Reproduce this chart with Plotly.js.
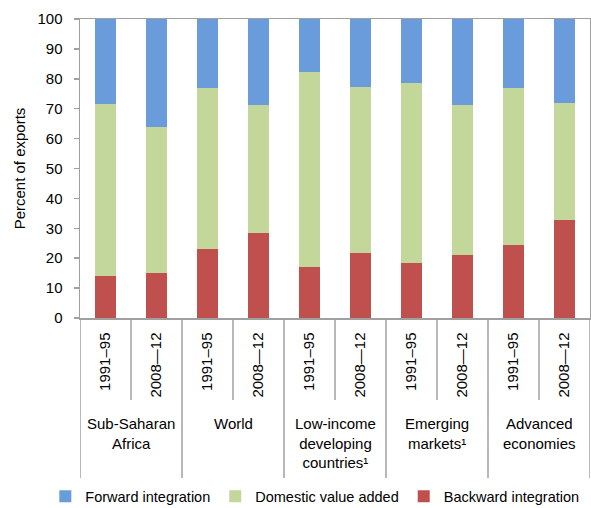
<!DOCTYPE html>
<html>
<head>
<meta charset="utf-8">
<script src="https://cdn.plot.ly/plotly-3.0.1.min.js"></script>
<style>html,body{margin:0;padding:0;background:#fff;}#chart{width:591px;height:508px;}</style>
</head>
<body>
<div id="chart"></div>
<script>
const groups = ["Sub-Saharan<br>Africa", "World", "Low-income<br>developing<br>countries¹", "Emerging<br>markets¹", "Advanced<br>economies"];
const periods = ["1991–95", "2008—12"];
const backward = [14.0, 15.2, 23.2, 28.5, 17.2, 21.6, 18.4, 21.0, 24.4, 32.7];
const domestic = [57.6, 48.6, 53.7, 42.8, 65.2, 55.7, 60.2, 50.2, 52.5, 39.3];
const forward  = [28.4, 36.2, 23.1, 28.7, 17.6, 22.7, 21.4, 28.8, 23.1, 28.0];

const xIdx = backward.map((_, i) => i);
const tickText = xIdx.map(i => periods[i % periods.length]);

const FONT = {family: '"Liberation Sans", Arial, sans-serif', size: 15, color: '#000'};
const AXC = '#a0a0a0';

const traces = [
  {name: 'Backward integration', y: backward, color: '#c0504d'},
  {name: 'Domestic value added', y: domestic, color: '#c4d79b'},
  {name: 'Forward integration', y: forward, color: '#6a9cdb'}
].map(s => ({
  type: 'bar', x: xIdx, y: s.y, name: s.name,
  marker: {color: s.color, line: {width: 0}},
  hoverinfo: 'skip'
}));

// separators below the x axis
const shapes = [];
for (let b = 0; b <= xIdx.length; b++) {
  const isGroup = (b % periods.length) === 0;
  shapes.push({
    type: 'line', xref: 'x', yref: 'paper',
    x0: b - 0.5, x1: b - 0.5, y0: 0, y1: isGroup ? -0.535 : -0.274,
    line: {color: AXC, width: 1.5}
  });
}

const annotations = groups.map((g, k) => ({
  xref: 'x', yref: 'paper', x: k * periods.length + (periods.length - 1) / 2, y: -0.318,
  xanchor: 'center', yanchor: 'top', showarrow: false, text: g,
  font: FONT, align: 'center'
}));

const layout = {
  width: 591, height: 508,
  margin: {l: 80, r: 1, t: 19, b: 190, pad: 0, autoexpand: false},
  paper_bgcolor: '#fff', plot_bgcolor: '#fff',
  font: FONT,
  barmode: 'stack', bargap: 0.6,
  showlegend: true,
  legend: {
    orientation: 'h', traceorder: 'reversed',
    xref: 'paper', yref: 'paper',
    x: -0.068, xanchor: 'left', y: -0.596, yanchor: 'middle',
    font: Object.assign({}, FONT, {size: 14.5}), itemwidth: 30, bgcolor: 'rgba(0,0,0,0)'
  },
  xaxis: {
    range: [-0.5, xIdx.length - 0.5],
    tickmode: 'array', tickvals: xIdx, ticktext: tickText,
    tickangle: -90, ticks: '', showgrid: false, zeroline: false,
    showline: true, linecolor: AXC, linewidth: 1.5, mirror: true,
    ticklabelstandoff: 7, tickfont: FONT
  },
  yaxis: {
    range: [0, 100], tickmode: 'linear', tick0: 0, dtick: 10,
    ticks: 'outside', ticklen: 5, tickcolor: AXC, tickwidth: 1.5,
    showgrid: false, zeroline: false,
    showline: true, linecolor: AXC, linewidth: 1.5, mirror: true,
    ticklabelstandoff: 8, tickfont: FONT,
    title: {text: 'Percent of exports', font: FONT, standoff: 8}
  },
  shapes: shapes,
  annotations: annotations
};

Plotly.newPlot('chart', traces, layout, {displayModeBar: false, staticPlot: true});
</script>
</body>
</html>
